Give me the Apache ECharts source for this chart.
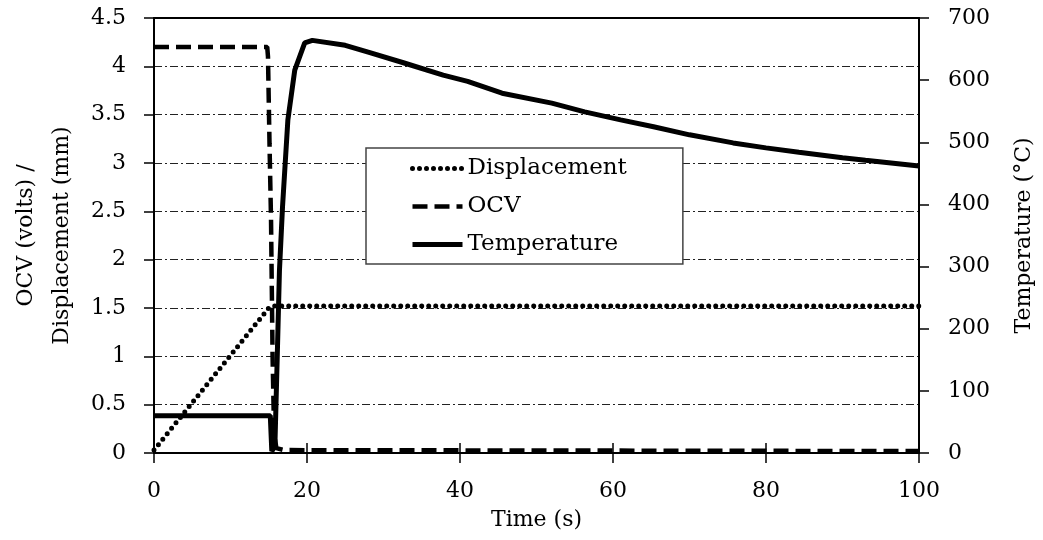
<!DOCTYPE html>
<html>
<head>
<meta charset="utf-8">
<script src="https://cdn.jsdelivr.net/npm/echarts@6/dist/echarts.min.js"></script>
<style>
  html, body { margin: 0; padding: 0; background: #fff; }
  #chart { width: 1043px; height: 540px; }
</style>
</head>
<body>
<div id="chart"></div>
<script>
// time (s) vs value
const displacementData = [[0, 0.03], [15, 1.5], [15.6, 1.52], [100, 1.52]]
const ocvData = [
  [0, 4.2], [14.8, 4.2], [14.9, 4.1], [15.1, 3.2], [15.3, 2.4],
  [15.5, 1.0], [15.7, 0.2], [16, 0.05], [17, 0.03], [100, 0.02]
]
const temperatureData = [
  [0, 60], [15.2, 60], [15.4, 3], [15.8, 10], [16.1, 150], [16.4, 294],
  [16.8, 396], [17.5, 536], [18.4, 616], [19.7, 660], [20.7, 664], [25, 656],
  [28, 645], [32.6, 628], [37.8, 608], [41, 598], [45.5, 579], [52, 563],
  [56.3, 549], [61, 536], [65.3, 525], [70, 512], [75.7, 499], [80, 491],
  [84.3, 484], [90, 475], [93, 471], [100, 462]
]
const seriesNames = ['Displacement', 'OCV', 'Temperature']

const font = 'DejaVu Serif'
const ink = '#000'

const chart = echarts.init(document.getElementById('chart'), null, { renderer: 'canvas' })

chart.setOption({
  animation: false,
  backgroundColor: '#fff',
  textStyle: { fontFamily: font, color: ink },
  grid: { left: 148, right: 122, top: 18, bottom: 87 },
  legend: {
    data: seriesNames,
    orient: 'vertical',
    left: 366,
    top: 148,
    padding: [9, 56, 8, 44],
    itemWidth: 50,
    itemHeight: 20,
    itemGap: 15,
    borderColor: '#444',
    borderWidth: 1.5,
    backgroundColor: '#fff',
    itemStyle: { color: 'rgba(0,0,0,0)', borderWidth: 0 },
    lineStyle: { width: 'inherit', type: 'inherit', cap: 'inherit' },
    textStyle: { fontFamily: font, fontSize: 23, color: ink }
  },
  xAxis: [
    {
      type: 'value', position: 'bottom', min: 0, max: 100, interval: 20,
      name: 'Time (s)', nameLocation: 'middle', nameGap: 56,
      nameTextStyle: { fontFamily: font, fontSize: 22, color: ink },
      axisLine: { onZero: false, lineStyle: { color: ink, width: 2 } },
      axisTick: { show: true, length: 10, lineStyle: { color: ink, width: 1.5 } },
      axisLabel: { margin: 27, fontFamily: font, fontSize: 22, color: ink },
      splitLine: { show: false }
    },
    {
      // upward half of the crossing ticks
      type: 'value', position: 'bottom', min: 0, max: 100, interval: 20,
      axisLine: { show: true, onZero: false, lineStyle: { color: 'rgba(0,0,0,0)', width: 0 } },
      axisTick: { show: true, inside: true, length: 10, lineStyle: { color: ink, width: 1.5 } },
      axisLabel: { show: false },
      splitLine: { show: false }
    },
    {
      // top frame line
      type: 'value', position: 'top', min: 0, max: 100,
      axisLine: { onZero: false, lineStyle: { color: ink, width: 2 } },
      axisTick: { show: false },
      axisLabel: { show: false },
      splitLine: { show: false }
    }
  ],
  yAxis: [
    {
      type: 'value', position: 'left', min: 0, max: 4.5, interval: 0.5,
      name: 'OCV (volts) /\nDisplacement (mm)', nameLocation: 'middle', nameGap: 74,
      nameRotate: 90,
      nameTextStyle: { fontFamily: font, fontSize: 22, lineHeight: 36, color: ink },
      axisLine: { show: true, onZero: false, lineStyle: { color: ink, width: 2 } },
      axisTick: { show: true, length: 10, lineStyle: { color: ink, width: 1.5 } },
      axisLabel: { margin: 28, fontFamily: font, fontSize: 22, color: ink },
      splitLine: { show: true, lineStyle: { color: '#222', width: 1, type: [8, 3, 2, 3] } }
    },
    {
      type: 'value', position: 'right', min: 0, max: 700, interval: 100,
      name: 'Temperature (°C)', nameLocation: 'middle', nameGap: 94,
      nameRotate: 90,
      nameTextStyle: { fontFamily: font, fontSize: 22, color: ink },
      axisLine: { show: true, onZero: false, lineStyle: { color: ink, width: 2 } },
      axisTick: { show: true, length: 10, lineStyle: { color: ink, width: 1.5 } },
      axisLabel: { margin: 29, fontFamily: font, fontSize: 22, color: ink },
      splitLine: { show: false }
    }
  ],
  series: [
    {
      name: 'Displacement', type: 'line', yAxisIndex: 0, data: displacementData,
      symbol: 'none', color: ink,
      lineStyle: { color: ink, width: 5, type: [0, 7], cap: 'round' }
    },
    {
      name: 'OCV', type: 'line', yAxisIndex: 0, data: ocvData,
      symbol: 'none', color: ink,
      lineStyle: { color: ink, width: 4.5, type: [15, 7] }
    },
    {
      name: 'Temperature', type: 'line', yAxisIndex: 1, data: temperatureData,
      symbol: 'none', color: ink,
      lineStyle: { color: ink, width: 5 }
    }
  ]
})
</script>
</body>
</html>
